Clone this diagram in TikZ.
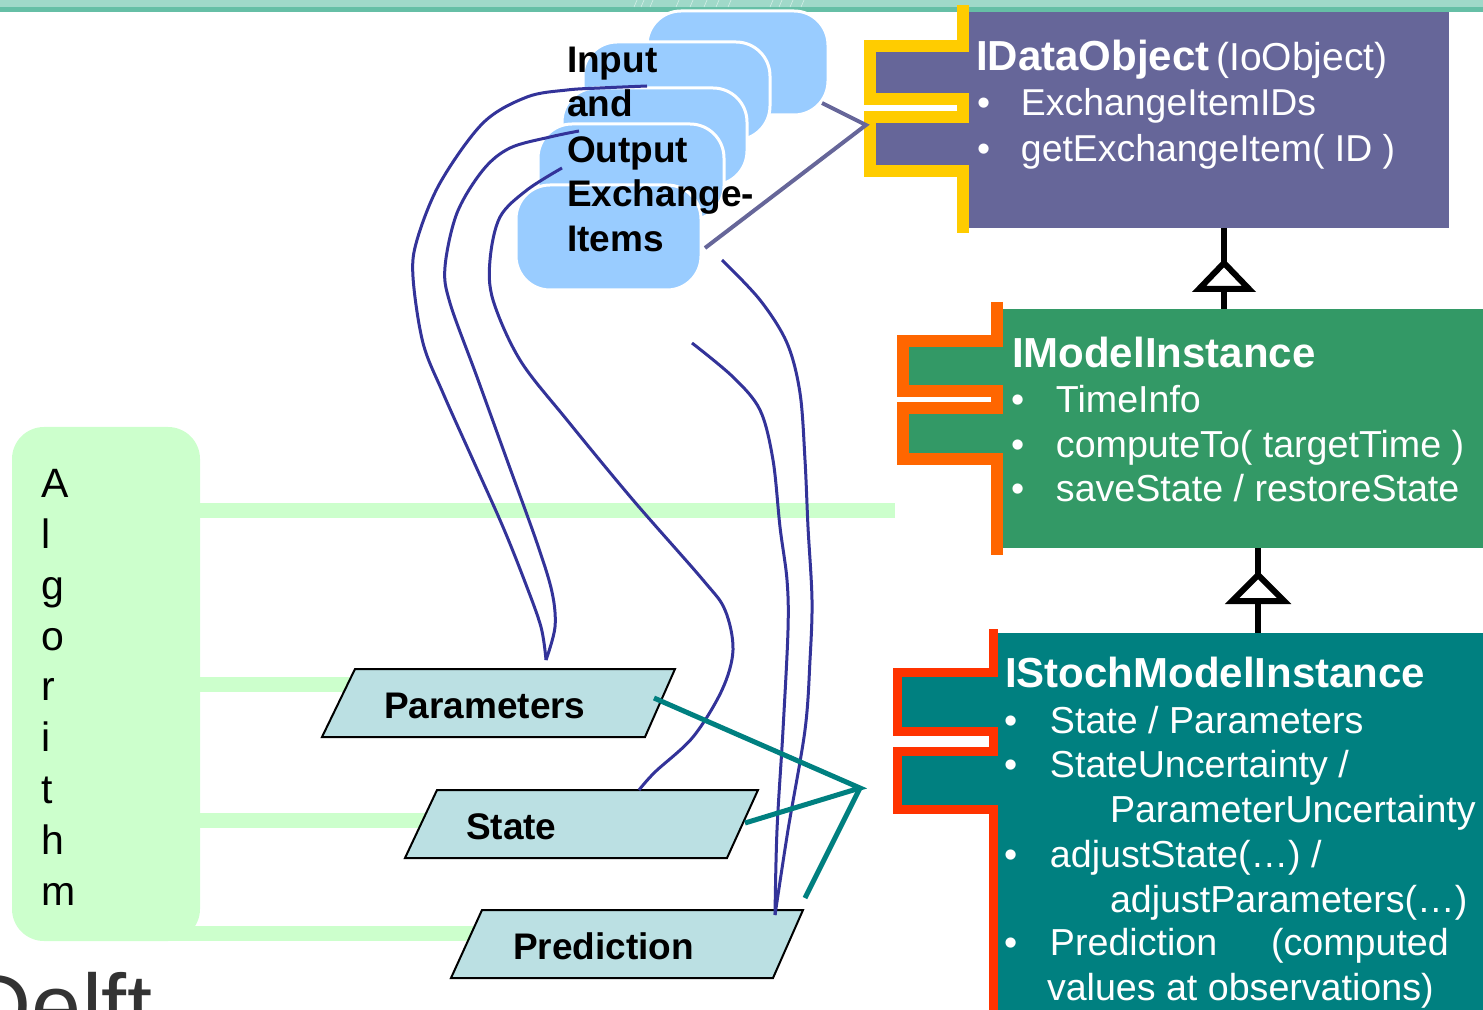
\documentclass[tikz,border=0pt]{standalone}
\usepackage{fontspec}
\setmainfont{Liberation Sans}
\usetikzlibrary{calc}
\definecolor{bandA}{HTML}{A0D9C9}
\definecolor{bandB}{HTML}{66BFA6}
\definecolor{ioblue}{HTML}{99CCFF}
\definecolor{dobjc}{HTML}{666699}
\definecolor{yel}{HTML}{FFCC00}
\definecolor{mgreen}{HTML}{339966}
\definecolor{orng}{HTML}{FF6600}
\definecolor{smteal}{HTML}{008080}
\definecolor{redb}{HTML}{FF3300}
\definecolor{algg}{HTML}{CCFFCC}
\definecolor{parf}{HTML}{BBE0E3}
\definecolor{curveb}{HTML}{333399}
\definecolor{delftc}{HTML}{333333}
\begin{document}
\begin{tikzpicture}[x=0.5pt,y=-0.5pt,
  every node/.style={inner sep=0pt, outer sep=0pt},
  box/.style={rectangle, anchor=north west, inner sep=0pt, outer sep=0pt},
  iobox/.style={box, fill=ioblue, draw=white, line width=1.5pt, rounded corners=17pt},
  wtitle/.style={anchor=base west, text=white, font=\fontsize{21}{25}\selectfont\bfseries},
  witem/.style={anchor=base west, text=white, font=\fontsize{18.8}{22}\selectfont},
  ditem/.style={anchor=base west, text=white, font=\fontsize{18.7}{22}\selectfont},
  iotext/.style={anchor=base west, font=\fontsize{18.5}{22}\selectfont\bfseries},
  ptext/.style={anchor=base west, font=\fontsize{18.5}{22}\selectfont\bfseries},
  alet/.style={anchor=base west, font=\fontsize{20.5}{24}\selectfont},
  parbox/.style={draw=black, fill=parf, line width=1pt, line join=miter},
  algbar/.style={draw=algg, line width=7.5pt},
  plug/.style={line width=#1, line join=miter, line cap=butt},
  curve/.style={draw=curveb, line width=1.5pt},
  iolink/.style={draw=dobjc, line width=2pt},
  tlink/.style={draw=smteal, line width=2.5pt},
  inh/.style={draw=black, line width=3pt},
  inhtri/.style={draw=black, fill=white, line width=3pt, line join=miter}]
\useasboundingbox (0,0) rectangle (1483,1010);

% top band
\fill[bandA] (0,0) rectangle (1483,7);
\fill[bandB] (0,7) rectangle (1483,12);
\foreach \hx in {634,641,650,676,690,704,716,728,770,779,790,801}
  \draw[white, opacity=0.55, line width=0.3pt] (\hx,7) -- (\hx+3,0);

% algorithm bars and box
\draw[algbar] (150,510) -- (895,510);
\draw[algbar] (150,684) -- (400,684);
\draw[algbar] (150,820) -- (480,820);
\draw[algbar] (150,933) -- (520,933);
\node[box, fill=algg, rounded corners=16pt, minimum width=94pt, minimum height=257pt] (alg) at (12,427) {};
\foreach \ch/\yy [count=\k] in {A/497,l/548,g/599,o/650,r/700,i/751,t/803,h/854,m/905}
  \node[alet] (alg\k) at (41,\yy) {\ch};

% IDataObject
\node[box, fill=dobjc, minimum width=240pt, minimum height=108pt] (dobj) at (969,12) {};
\fill[dobjc] (870,46) rectangle (970,99);
\fill[dobjc] (870,117.5) rectangle (970,171);
\draw[yel, plug=6pt] (963,5) -- (963,46) -- (870,46) -- (870,99) -- (963,99) -- (963,117.5)
  -- (870,117.5) -- (870,171) -- (963,171) -- (963,233);
\node[wtitle] (dt) at (976,71) {IDataObject\mdseries\fontsize{19.5}{24}\selectfont\hspace{3.5pt}(IoObject)};
\node[ditem] (d1) at (977,116) {\makebox[22pt][l]{•}ExchangeItemIDs};
\node[ditem] (d2) at (977,162) {\makebox[22pt][l]{•}getExchangeItem( ID )};

% IModelInstance
\node[box, fill=mgreen, minimum width=240pt, minimum height=119.5pt] (minst) at (1003,309) {};
\fill[mgreen] (903,341) rectangle (1004,391.5);
\fill[mgreen] (903,408.5) rectangle (1004,459.5);
\draw[orng, plug=6pt] (997,302) -- (997,341) -- (903,341) -- (903,391.5) -- (997,391.5) -- (997,408.5)
  -- (903,408.5) -- (903,459.5) -- (997,459.5) -- (997,555);
\node[wtitle] (mt) at (1012,368) {IModelInstance};
\node[witem] (m1) at (1011,413) {\makebox[22.5pt][l]{•}TimeInfo};
\node[witem] (m2) at (1011,458) {\makebox[22.5pt][l]{•}computeTo( targetTime )};
\node[witem] (m3) at (1011,502) {\makebox[22.5pt][l]{•}saveState / restoreState};

% IStochModelInstance
\node[box, fill=smteal, minimum width=243pt, minimum height=188.5pt] (smi) at (997,633) {};
\fill[smteal] (897,672.5) rectangle (998,731);
\fill[smteal] (897,751) rectangle (998,809);
\draw[redb, plug=4.5pt] (993,629) -- (993,672.5) -- (897,672.5) -- (897,731) -- (993,731) -- (993,751)
  -- (897,751) -- (897,809) -- (993,809) -- (993,1012);
\node[wtitle] (st) at (1005,687) {IStochModelInstance};
\node[witem] (s1) at (1004,733) {\makebox[23pt][l]{•}State / Parameters};
\node[witem] (s2) at (1004,777) {\makebox[23pt][l]{•}StateUncertainty /};
\node[witem] (s2b) at (1110,822) {ParameterUncertainty};
\node[witem] (s3) at (1004,867) {\makebox[23pt][l]{•}adjustState(…) /};
\node[witem] (s3b) at (1110,912) {adjustParameters(…)};
\node[witem] (s4) at (1004,955) {\makebox[23pt][l]{•}Prediction\hspace{27pt}(computed};
\node[witem] (s4b) at (1047,1000) {values at observations)};

% inheritance
\coordinate (tA) at (1224,263);
\coordinate (tB) at (1258,575);
\draw[inh] (tA |- dobj.south) -- (tA |- minst.north);
\draw[inhtri] (tA) -- ++(-25,26) -- ++(50,0) -- cycle;
\draw[inh] (tB |- minst.south) -- (tB |- smi.north);
\draw[inhtri] (tB) -- ++(-26,26) -- ++(52,0) -- cycle;

% exchange item stack
\node[iobox, minimum width=90.5pt, minimum height=52pt] (io1) at (647,11) {};
\node[iobox, minimum width=93.5pt, minimum height=49pt] (io2) at (583,42) {};
\node[iobox, minimum width=92.5pt, minimum height=48.5pt] (io3) at (562,88) {};
\node[iobox, minimum width=93pt, minimum height=48pt] (io4) at (538,124) {};
\node[iobox, minimum width=92.5pt, minimum height=52.5pt] (io5) at (516,185) {};

% links from exchange items to IDataObject plug
\coordinate (plugA) at (866,125);
\coordinate (io1e) at (822,103);
\coordinate (io5e) at (705,248);
\draw[iolink] (io1e) -- (plugA) -- (io5e);

% parallelograms
\draw[parbox] (355,669) -- (675,669) -- (645,737) -- (322,737) -- cycle;
\draw[parbox] (437,790) -- (758,790) -- (727,858) -- (405,858) -- cycle;
\draw[parbox] (482,910) -- (803,910) -- (773,978) -- (451,978) -- cycle;
\node[ptext] (pars) at (384,718) {Parameters};
\node[ptext] (stat) at (466,839) {State};
\node[ptext] (pred) at (513,959) {Prediction};

% curves
\coordinate (cA) at (546,660);
\coordinate (cS) at (639,790);
\coordinate (cP) at (775,915);
\draw[curve] plot[smooth, tension=0.55] coordinates {(647,86) (600,88) (567,90) (527,97) (483,123) (440,183) (417,240) (413,277) (423,343) (443,393) (473,460) (503,527) (525,582) (541,627) (cA)};
\draw[curve] plot[smooth, tension=0.55] coordinates {(579,131) (550,137) (510,148) (483,170) (457,213) (445,267) (450,303) (477,377) (507,460) (537,543) (552,592) (555,627) (cA)};
\draw[curve] plot[smooth, tension=0.55] coordinates {(562,168) (527,190) (500,217) (490,260) (493,300) (520,360) (567,420) (633,500) (703,580) (725,610) (733,650) (722,690) (693,737) (655,772) (cS)};
\draw[curve] plot[smooth, tension=0.55] coordinates {(692,343) (733,377) (760,410) (773,460) (780,527) (787,580) (788,630) (783,730) (777,830) (cP)};
\draw[curve] plot[smooth, tension=0.55] coordinates {(722,260) (760,300) (787,343) (800,393) (805,460) (808,527) (812,600) (810,660) (805,730) (788,830) (cP)};

% teal links to IStochModelInstance plug
\coordinate (J) at (860,788);
\coordinate (parE) at (654,698);
\coordinate (statE) at (745,823);
\coordinate (predE) at (805,898);
\draw[tlink] (parE) -- (J) -- (statE);
\draw[tlink] (J) -- (predE);

% exchange items label
\node[iotext] (iot1) at (567,73) {Input};
\node[iotext] (iot2) at (567,117) {and};
\node[iotext] (iot3) at (567,163) {Output};
\node[iotext] (iot4) at (567,207) {Exchange-};
\node[iotext] (iot5) at (567,252) {Items};

% logo fragment (cut by the lower edge, as in the reference)
\node[anchor=base west, text=delftc, font=\fontsize{45}{50}\selectfont] (delft) at (-33,1037) {Delft};
\end{tikzpicture}
\end{document}
